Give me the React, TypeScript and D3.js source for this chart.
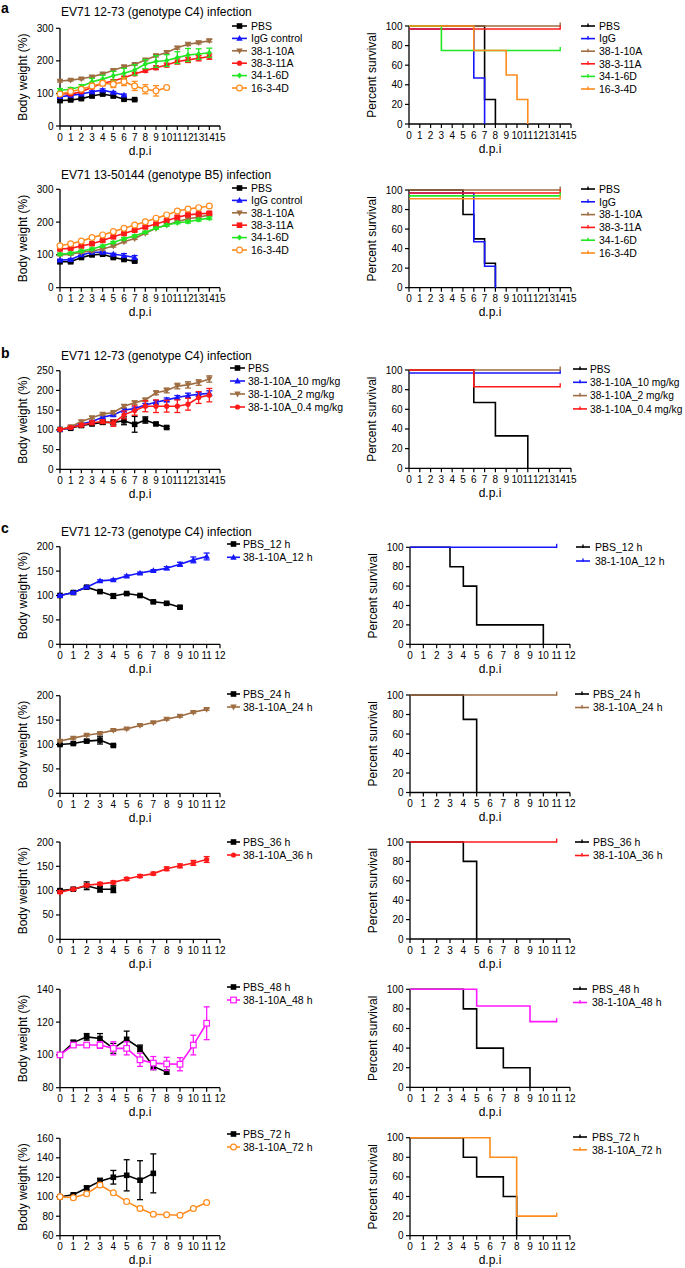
import React from 'react';
import * as d3 from 'd3';

const FONT = "'Liberation Sans', Arial, Helvetica, sans-serif";
const COL = {
  black: '#000000',
  blue: '#1616ff',
  brown: '#9e6d42',
  red: '#ff1a1a',
  green: '#22e622',
  orange: '#ff8c1e',
  magenta: '#ff18ff',
};

// ---------- x values (days post infection) ----------
const D_0_4 = [0, 1, 2, 3, 4];
const D_0_6 = [0, 1, 2, 3, 4, 5, 6];
const D_0_7 = [0, 1, 2, 3, 4, 5, 6, 7];
const D_0_8 = [0, 1, 2, 3, 4, 5, 6, 7, 8];
const D_0_9 = [0, 1, 2, 3, 4, 5, 6, 7, 8, 9];
const D_0_10 = [0, 1, 2, 3, 4, 5, 6, 7, 8, 9, 10];
const D_0_11 = [0, 1, 2, 3, 4, 5, 6, 7, 8, 9, 10, 11];
const D_0_14 = [0, 1, 2, 3, 4, 5, 6, 7, 8, 9, 10, 11, 12, 13, 14];

// ---------- tick labels ----------
const TICKS_0_300 = [0, 100, 200, 300];
const TICKS_0_250 = [0, 50, 100, 150, 200, 250];
const TICKS_0_200 = [0, 50, 100, 150, 200];
const TICKS_80_140 = [80, 100, 120, 140];
const TICKS_60_160 = [60, 80, 100, 120, 140, 160];
const TICKS_SURV = [0, 20, 40, 60, 80, 100];

// ---------- Panel a: EV71 12-73 (genotype C4), body weight ----------
const aC4_PBS = [78, 80, 84, 92, 98, 92, 82, 81];
const aC4_PBS_err = [4, 3, 3, 4, 4, 3, 3, 2];
const aC4_IgG = [90, 94, 98, 105, 110, 103, 95];
const aC4_IgG_err = [3, 3, 3, 3, 4, 3, 3];
const aC4_10A = [138, 141, 145, 151, 160, 171, 182, 189, 203, 216, 226, 240, 251, 256, 262];
const aC4_10A_err = [3, 3, 3, 3, 3, 3, 3, 3, 3, 4, 4, 4, 4, 4, 4];
const aC4_11A = [100, 98, 105, 119, 131, 138, 148, 160, 170, 179, 187, 198, 203, 208, 213];
const aC4_11A_err = [3, 3, 3, 4, 4, 4, 5, 5, 5, 6, 6, 8, 8, 8, 8];
const aC4_6D = [110, 113, 121, 136, 144, 154, 162, 172, 190, 198, 201, 210, 218, 221, 225];
const aC4_6D_err = [5, 5, 6, 10, 12, 14, 15, 16, 14, 18, 18, 18, 20, 16, 14];
const aC4_4D = [98, 106, 113, 123, 131, 128, 136, 123, 113, 108, 118];
const aC4_4D_err = [4, 5, 6, 8, 8, 10, 12, 14, 14, 16, 4];

// ---------- Panel a: EV71 12-73 (C4), survival ----------
const aC4S_PBS_t = [0, 7, 8];
const aC4S_PBS_s = [100, 25, 0];
const aC4S_IgG_t = [0, 6, 7];
const aC4S_IgG_s = [97, 47, 0];
const aC4S_10A_t = [0, 14];
const aC4S_10A_s = [100, 100];
const aC4S_11A_t = [0, 14];
const aC4S_11A_s = [97, 97];
const aC4S_6D_t = [0, 3, 14];
const aC4S_6D_s = [100, 75, 75];
const aC4S_4D_t = [0, 6, 9, 10, 11];
const aC4S_4D_s = [100, 75, 50, 25, 0];

// ---------- Panel a: EV71 13-50144 (genotype B5), body weight ----------
const aB5_PBS = [79, 79, 92, 100, 102, 92, 86, 81];
const aB5_PBS_err = [3, 3, 3, 3, 3, 3, 4, 3];
const aB5_IgG = [84, 86, 100, 108, 108, 102, 98, 92];
const aB5_IgG_err = [3, 3, 3, 3, 3, 3, 6, 6];
const aB5_10A = [100, 102, 108, 112, 118, 127, 140, 150, 166, 181, 191, 201, 210, 215, 222];
const aB5_10A_err = [3, 3, 3, 3, 3, 3, 3, 3, 3, 3, 3, 3, 3, 3, 3];
const aB5_11A = [118, 120, 127, 134, 144, 155, 165, 175, 185, 194, 204, 215, 222, 225, 227];
const aB5_11A_err = [3, 3, 3, 3, 3, 3, 3, 3, 3, 3, 3, 4, 4, 4, 4];
const aB5_6D = [102, 105, 112, 118, 127, 138, 149, 158, 169, 181, 191, 198, 201, 207, 212];
const aB5_6D_err = [3, 3, 3, 3, 3, 3, 3, 3, 3, 3, 3, 3, 4, 4, 4];
const aB5_4D = [128, 134, 142, 153, 161, 171, 181, 191, 201, 212, 222, 234, 240, 244, 249];
const aB5_4D_err = [3, 3, 3, 3, 3, 3, 3, 3, 3, 3, 3, 3, 3, 3, 3];

// ---------- Panel a: EV71 13-50144 (B5), survival ----------
const aB5S_PBS_t = [0, 5, 6, 7, 8];
const aB5S_PBS_s = [100, 75, 50, 25, 0];
const aB5S_IgG_t = [0, 6, 7, 8];
const aB5S_IgG_s = [97, 47, 22, 0];
const aB5S_10A_t = [0, 14];
const aB5S_10A_s = [100, 100];
const aB5S_11A_t = [0, 14];
const aB5S_11A_s = [97, 97];
const aB5S_6D_t = [0, 14];
const aB5S_6D_s = [94, 94];
const aB5S_4D_t = [0, 14];
const aB5S_4D_s = [91, 91];

// ---------- Panel b: dose, body weight ----------
const b_PBS = [101, 104, 111, 115, 119, 119, 123, 114, 125, 115, 106];
const b_PBS_err = [2, 3, 4, 4, 5, 6, 10, 20, 8, 3, 3];
const b_10 = [101, 106, 115, 121, 132, 138, 150, 154, 163, 170, 176, 182, 187, 190, 193];
const b_10_err = [2, 2, 3, 3, 3, 3, 4, 4, 4, 4, 5, 5, 6, 5, 6];
const b_2 = [101, 108, 121, 131, 140, 144, 160, 169, 176, 194, 200, 211, 214, 220, 229];
const b_2_err = [2, 2, 3, 3, 3, 3, 4, 4, 4, 5, 6, 7, 8, 7, 8];
const b_04 = [101, 106, 112, 118, 121, 117, 138, 149, 160, 160, 160, 160, 165, 182, 188];
const b_04_err = [2, 3, 4, 5, 5, 8, 10, 12, 14, 16, 15, 16, 15, 15, 17];

// ---------- Panel b: dose, survival ----------
const bS_PBS_t = [0, 6, 8, 11];
const bS_PBS_s = [100, 67, 33, 0];
const bS_10_t = [0, 14];
const bS_10_s = [97, 97];
const bS_2_t = [0, 14];
const bS_2_s = [100, 100];
const bS_04_t = [0, 6, 14];
const bS_04_s = [100, 83, 83];

// ---------- Panel c: treatment timing, body weight ----------
const c12_PBS = [100, 106, 117, 108, 99, 104, 100, 87, 84, 76];
const c12_PBS_err = [2, 2, 2, 2, 5, 2, 2, 2, 2, 2];
const c12_10A = [100, 106, 117, 130, 132, 140, 146, 151, 156, 164, 173, 180];
const c12_10A_err = [2, 2, 2, 2, 2, 2, 2, 2, 3, 4, 6, 7];
const c24_PBS = [100, 102, 107, 109, 98];
const c24_PBS_err = [2, 2, 3, 8, 2];
const c24_10A = [107, 113, 119, 123, 129, 132, 139, 145, 152, 158, 166, 172];
const c24_10A_err = [2, 2, 2, 2, 2, 2, 2, 2, 2, 2, 2, 2];
const c36_PBS = [100, 103, 110, 103, 103];
const c36_PBS_err = [3, 2, 8, 6, 7];
const c36_10A = [97, 103, 111, 114, 117, 124, 130, 135, 145, 151, 157, 164];
const c36_10A_err = [3, 2, 3, 3, 3, 3, 3, 3, 4, 4, 5, 6];
const c48_PBS = [100, 107.5, 111, 110, 104, 109.5, 104, 93, 89.5];
const c48_PBS_err = [0, 1.5, 2, 3, 3, 5, 2, 2, 1];
const c48_10A = [100, 106, 106, 106, 104, 104, 97, 95, 94.5, 94.3, 106, 119.3];
const c48_10A_err = [0, 1, 1, 2, 4, 4, 4, 4, 4, 4, 6, 10];
const c72_PBS = [100, 102, 109, 116, 120, 122, 117, 124];
const c72_PBS_err = [0, 1, 2, 3, 7, 16, 20, 20];
const c72_10A = [100, 99, 103, 112, 104, 95, 88, 82, 81.5, 81, 88, 94];
const c72_10A_err = [0, 1, 1, 2, 1, 1, 2, 1, 1, 1, 1, 1];

// ---------- Panel c: survival ----------
const c12S_PBS_t = [0, 3, 4, 5, 10];
const c12S_PBS_s = [100, 80, 60, 20, 0];
const c12S_10A_t = [0, 11];
const c12S_10A_s = [100, 100];
const c24S_PBS_t = [0, 4, 5];
const c24S_PBS_s = [100, 75, 0];
const c24S_10A_t = [0, 11];
const c24S_10A_s = [100, 100];
const c36S_PBS_t = [0, 4, 5];
const c36S_PBS_s = [100, 80, 0];
const c36S_10A_t = [0, 11];
const c36S_10A_s = [100, 100];
const c48S_PBS_t = [0, 4, 5, 7, 9];
const c48S_PBS_s = [100, 80, 40, 20, 0];
const c48S_10A_t = [0, 5, 9, 11];
const c48S_10A_s = [100, 83, 67, 67];
const c72S_PBS_t = [0, 4, 5, 7, 8];
const c72S_PBS_s = [100, 80, 60, 40, 0];
const c72S_10A_t = [0, 6, 8, 11];
const c72S_10A_s = [100, 80, 20, 20];

// ---------- types ----------
type Shape = 'square' | 'squareOpen' | 'triangle' | 'triangleDown' | 'circle' | 'circleOpen' | 'diamond';
interface WSeries { name: string; color: string; shape: Shape; days: number[]; values: number[]; err: number[]; }
interface SSeries { name: string; color: string; times: number[]; surv: number[]; }
interface Frame { left: number; right: number; top: number; bottom: number; }
interface Legend { lx0: number; lx1: number; tx: number; y0: number; step: number; fs?: number; }
interface PanelCfg {
  kind: 'weight' | 'survival';
  frame: Frame;
  xMax: number;
  yDomain: [number, number];
  yTicks: number[];
  legend: Legend;
  weight?: WSeries[];
  surv?: SSeries[];
}

const w = (name: string, color: string, shape: Shape, days: number[], values: number[], err: number[]): WSeries =>
  ({ name, color, shape, days, values, err });
const s = (name: string, color: string, times: number[], surv: number[]): SSeries => ({ name, color, times, surv });

const LA = { left: 60, right: 220 };
const RA = { left: 409, right: 571 };
const LC = { left: 60, right: 220 };
const RC = { left: 410, right: 570 };

const panels: PanelCfg[] = [
  // a, C4
  {
    kind: 'weight', frame: { ...LA, top: 28.3, bottom: 126 }, xMax: 15, yDomain: [0, 300], yTicks: TICKS_0_300,
    legend: { lx0: 232, lx1: 247, tx: 251, y0: 26, step: 12.4 },
    weight: [
      w('PBS', COL.black, 'square', D_0_7, aC4_PBS, aC4_PBS_err),
      w('IgG control', COL.blue, 'triangle', D_0_6, aC4_IgG, aC4_IgG_err),
      w('38-1-10A', COL.brown, 'triangleDown', D_0_14, aC4_10A, aC4_10A_err),
      w('38-3-11A', COL.red, 'circle', D_0_14, aC4_11A, aC4_11A_err),
      w('34-1-6D', COL.green, 'diamond', D_0_14, aC4_6D, aC4_6D_err),
      w('16-3-4D', COL.orange, 'circleOpen', D_0_10, aC4_4D, aC4_4D_err),
    ],
  },
  {
    kind: 'survival', frame: { ...RA, top: 26, bottom: 124 }, xMax: 15, yDomain: [0, 100], yTicks: TICKS_SURV,
    legend: { lx0: 581, lx1: 595, tx: 599, y0: 26, step: 12.6 },
    surv: [
      s('PBS', COL.black, aC4S_PBS_t, aC4S_PBS_s),
      s('IgG', COL.blue, aC4S_IgG_t, aC4S_IgG_s),
      s('38-1-10A', COL.brown, aC4S_10A_t, aC4S_10A_s),
      s('38-3-11A', COL.red, aC4S_11A_t, aC4S_11A_s),
      s('34-1-6D', COL.green, aC4S_6D_t, aC4S_6D_s),
      s('16-3-4D', COL.orange, aC4S_4D_t, aC4S_4D_s),
    ],
  },
  // a, B5
  {
    kind: 'weight', frame: { ...LA, top: 189.3, bottom: 287.7 }, xMax: 15, yDomain: [0, 300], yTicks: TICKS_0_300,
    legend: { lx0: 232, lx1: 247, tx: 251, y0: 188, step: 12.4 },
    weight: [
      w('PBS', COL.black, 'square', D_0_7, aB5_PBS, aB5_PBS_err),
      w('IgG control', COL.blue, 'triangle', D_0_7, aB5_IgG, aB5_IgG_err),
      w('38-1-10A', COL.brown, 'triangleDown', D_0_14, aB5_10A, aB5_10A_err),
      w('38-3-11A', COL.red, 'square', D_0_14, aB5_11A, aB5_11A_err),
      w('34-1-6D', COL.green, 'diamond', D_0_14, aB5_6D, aB5_6D_err),
      w('16-3-4D', COL.orange, 'circleOpen', D_0_14, aB5_4D, aB5_4D_err),
    ],
  },
  {
    kind: 'survival', frame: { ...RA, top: 190, bottom: 287.7 }, xMax: 15, yDomain: [0, 100], yTicks: TICKS_SURV,
    legend: { lx0: 581, lx1: 595, tx: 599, y0: 189, step: 12.8 },
    surv: [
      s('PBS', COL.black, aB5S_PBS_t, aB5S_PBS_s),
      s('IgG', COL.blue, aB5S_IgG_t, aB5S_IgG_s),
      s('38-1-10A', COL.brown, aB5S_10A_t, aB5S_10A_s),
      s('38-3-11A', COL.red, aB5S_11A_t, aB5S_11A_s),
      s('34-1-6D', COL.green, aB5S_6D_t, aB5S_6D_s),
      s('16-3-4D', COL.orange, aB5S_4D_t, aB5S_4D_s),
    ],
  },
  // b
  {
    kind: 'weight', frame: { ...LA, top: 370.7, bottom: 469.3 }, xMax: 15, yDomain: [0, 250], yTicks: TICKS_0_250,
    legend: { lx0: 230, lx1: 245, tx: 248, y0: 368, step: 13 },
    weight: [
      w('PBS', COL.black, 'square', D_0_10, b_PBS, b_PBS_err),
      w('38-1-10A_10 mg/kg', COL.blue, 'triangle', D_0_14, b_10, b_10_err),
      w('38-1-10A_2 mg/kg', COL.brown, 'triangleDown', D_0_14, b_2, b_2_err),
      w('38-1-10A_0.4 mg/kg', COL.red, 'circle', D_0_14, b_04, b_04_err),
    ],
  },
  {
    kind: 'survival', frame: { ...RA, top: 370, bottom: 468.3 }, xMax: 15, yDomain: [0, 100], yTicks: TICKS_SURV,
    legend: { lx0: 573, lx1: 587, tx: 590, y0: 369, step: 13.3, fs: 10.2 },
    surv: [
      s('PBS', COL.black, bS_PBS_t, bS_PBS_s),
      s('38-1-10A_10 mg/kg', COL.blue, bS_10_t, bS_10_s),
      s('38-1-10A_2 mg/kg', COL.brown, bS_2_t, bS_2_s),
      s('38-1-10A_0.4 mg/kg', COL.red, bS_04_t, bS_04_s),
    ],
  },
  // c 12 h
  {
    kind: 'weight', frame: { ...LC, top: 546.7, bottom: 644.3 }, xMax: 12, yDomain: [0, 200], yTicks: TICKS_0_200,
    legend: { lx0: 227, lx1: 240, tx: 243, y0: 544, step: 13.3 },
    weight: [
      w('PBS_12 h', COL.black, 'square', D_0_9, c12_PBS, c12_PBS_err),
      w('38-1-10A_12 h', COL.blue, 'triangle', D_0_11, c12_10A, c12_10A_err),
    ],
  },
  {
    kind: 'survival', frame: { ...RC, top: 547.3, bottom: 644.3 }, xMax: 12, yDomain: [0, 100], yTicks: TICKS_SURV,
    legend: { lx0: 576, lx1: 590, tx: 595, y0: 547, step: 14 },
    surv: [
      s('PBS_12 h', COL.black, c12S_PBS_t, c12S_PBS_s),
      s('38-1-10A_12 h', COL.blue, c12S_10A_t, c12S_10A_s),
    ],
  },
  // c 24 h
  {
    kind: 'weight', frame: { ...LC, top: 695.7, bottom: 793.3 }, xMax: 12, yDomain: [0, 200], yTicks: TICKS_0_200,
    legend: { lx0: 227, lx1: 240, tx: 243, y0: 694, step: 13 },
    weight: [
      w('PBS_24 h', COL.black, 'square', D_0_4, c24_PBS, c24_PBS_err),
      w('38-1-10A_24 h', COL.brown, 'triangleDown', D_0_11, c24_10A, c24_10A_err),
    ],
  },
  {
    kind: 'survival', frame: { ...RC, top: 695, bottom: 792.5 }, xMax: 12, yDomain: [0, 100], yTicks: TICKS_SURV,
    legend: { lx0: 575, lx1: 589, tx: 593, y0: 694, step: 13.5 },
    surv: [
      s('PBS_24 h', COL.black, c24S_PBS_t, c24S_PBS_s),
      s('38-1-10A_24 h', COL.brown, c24S_10A_t, c24S_10A_s),
    ],
  },
  // c 36 h
  {
    kind: 'weight', frame: { ...LC, top: 842, bottom: 939.3 }, xMax: 12, yDomain: [0, 200], yTicks: TICKS_0_200,
    legend: { lx0: 227, lx1: 240, tx: 243, y0: 842, step: 13 },
    weight: [
      w('PBS_36 h', COL.black, 'square', D_0_4, c36_PBS, c36_PBS_err),
      w('38-1-10A_36 h', COL.red, 'circle', D_0_11, c36_10A, c36_10A_err),
    ],
  },
  {
    kind: 'survival', frame: { ...RC, top: 842, bottom: 939 }, xMax: 12, yDomain: [0, 100], yTicks: TICKS_SURV,
    legend: { lx0: 575, lx1: 589, tx: 593, y0: 842, step: 13.5 },
    surv: [
      s('PBS_36 h', COL.black, c36S_PBS_t, c36S_PBS_s),
      s('38-1-10A_36 h', COL.red, c36S_10A_t, c36S_10A_s),
    ],
  },
  // c 48 h
  {
    kind: 'weight', frame: { ...LC, top: 989.3, bottom: 1087.7 }, xMax: 12, yDomain: [80, 140], yTicks: TICKS_80_140,
    legend: { lx0: 227, lx1: 240, tx: 243, y0: 987, step: 13 },
    weight: [
      w('PBS_48 h', COL.black, 'square', D_0_8, c48_PBS, c48_PBS_err),
      w('38-1-10A_48 h', COL.magenta, 'squareOpen', D_0_11, c48_10A, c48_10A_err),
    ],
  },
  {
    kind: 'survival', frame: { ...RC, top: 989.3, bottom: 1087.3 }, xMax: 12, yDomain: [0, 100], yTicks: TICKS_SURV,
    legend: { lx0: 573, lx1: 587, tx: 592, y0: 989, step: 13.5 },
    surv: [
      s('PBS_48 h', COL.black, c48S_PBS_t, c48S_PBS_s),
      s('38-1-10A_48 h', COL.magenta, c48S_10A_t, c48S_10A_s),
    ],
  },
  // c 72 h
  {
    kind: 'weight', frame: { ...LC, top: 1138.3, bottom: 1235.7 }, xMax: 12, yDomain: [60, 160], yTicks: TICKS_60_160,
    legend: { lx0: 227, lx1: 240, tx: 243, y0: 1134, step: 13 },
    weight: [
      w('PBS_72 h', COL.black, 'square', D_0_7, c72_PBS, c72_PBS_err),
      w('38-1-10A_72 h', COL.orange, 'circleOpen', D_0_11, c72_10A, c72_10A_err),
    ],
  },
  {
    kind: 'survival', frame: { ...RC, top: 1137.7, bottom: 1235.7 }, xMax: 12, yDomain: [0, 100], yTicks: TICKS_SURV,
    legend: { lx0: 573, lx1: 587, tx: 592, y0: 1137, step: 12.8 },
    surv: [
      s('PBS_72 h', COL.black, c72S_PBS_t, c72S_PBS_s),
      s('38-1-10A_72 h', COL.orange, c72S_10A_t, c72S_10A_s),
    ],
  },
];

const titles = [
  { text: 'EV71 12-73 (genotype C4) infection', x: 61, y: 15.5 },
  { text: 'EV71 13-50144 (genotype B5) infection', x: 61, y: 179 },
  { text: 'EV71 12-73 (genotype C4) infection', x: 61, y: 360 },
  { text: 'EV71 12-73 (genotype C4) infection', x: 61, y: 536 },
];
const letters = [
  { text: 'a', x: 0, y: 13 },
  { text: 'b', x: 0, y: 358 },
  { text: 'c', x: 0, y: 533 },
];

function Marker({ shape, cx, cy, color }: { shape: Shape; cx: number; cy: number; color: string }) {
  switch (shape) {
    case 'square':
      return <rect x={cx - 2.8} y={cy - 2.8} width={5.6} height={5.6} fill={color} />;
    case 'squareOpen':
      return <rect x={cx - 2.8} y={cy - 2.8} width={5.6} height={5.6} fill="#fff" stroke={color} strokeWidth={1.2} />;
    case 'triangle':
      return <path d={`M${cx},${cy - 3.4}L${cx + 3.2},${cy + 2.4}L${cx - 3.2},${cy + 2.4}Z`} fill={color} />;
    case 'triangleDown':
      return <path d={`M${cx},${cy + 3.4}L${cx + 3.2},${cy - 2.4}L${cx - 3.2},${cy - 2.4}Z`} fill={color} />;
    case 'circle':
      return <circle cx={cx} cy={cy} r={2.6} fill={color} />;
    case 'circleOpen':
      return <circle cx={cx} cy={cy} r={2.9} fill="#fff" stroke={color} strokeWidth={1.2} />;
    case 'diamond':
      return <path d={`M${cx},${cy - 3}L${cx + 2.6},${cy}L${cx},${cy + 3}L${cx - 2.6},${cy}Z`} fill={color} />;
  }
  return null;
}

function Panel({ cfg }: { cfg: PanelCfg }) {
  const f = cfg.frame;
  const x = d3.scaleLinear().domain([0, cfg.xMax]).range([f.left, f.right]);
  const y = d3.scaleLinear().domain(cfg.yDomain).range([f.bottom, f.top]);
  const xTicks = d3.range(0, cfg.xMax + 1);
  const yTitle = cfg.kind === 'weight' ? 'Body weight (%)' : 'Percent survival';
  const lineGen = d3.line<[number, number]>().x(d => x(d[0])).y(d => y(d[1]));
  const stepGen = d3.line<[number, number]>().x(d => x(d[0])).y(d => y(d[1])).curve(d3.curveStepAfter);
  const midX = (f.left + f.right) / 2;
  const midY = (f.top + f.bottom) / 2;
  const lg = cfg.legend;
  const names = cfg.kind === 'weight' ? (cfg.weight || []).map(d => [d.name, d.color]) : (cfg.surv || []).map(d => [d.name, d.color]);

  return (
    <g>
      {/* axes */}
      <line x1={f.left} x2={f.left} y1={f.top} y2={f.bottom} stroke="#000" strokeWidth={1.3} />
      <line x1={f.left} x2={x(cfg.xMax)} y1={f.bottom} y2={f.bottom} stroke="#000" strokeWidth={1.3} />
      {cfg.yTicks.map(t => (
        <g key={'y' + t}>
          <line x1={f.left - 4} x2={f.left} y1={y(t)} y2={y(t)} stroke="#000" strokeWidth={1.2} />
          <text x={f.left - 6.5} y={y(t) + 3.5} fontSize={10} textAnchor="end">{t}</text>
        </g>
      ))}
      {xTicks.map(t => (
        <g key={'x' + t}>
          <line x1={x(t)} x2={x(t)} y1={f.bottom} y2={f.bottom + 4} stroke="#000" strokeWidth={1.2} />
          <text x={x(t)} y={f.bottom + 14.5} fontSize={10} textAnchor="middle">{t}</text>
        </g>
      ))}
      <text x={midX} y={f.bottom + 28.5} fontSize={12} textAnchor="middle">d.p.i</text>
      <text transform={`translate(${f.left - 33},${midY}) rotate(-90)`} fontSize={12} textAnchor="middle">{yTitle}</text>

      {/* weight series */}
      {cfg.kind === 'weight' && (cfg.weight || []).map((sr, si) => {
        const pts = sr.days.map((d, i) => [d, sr.values[i]] as [number, number]);
        return (
          <g key={'w' + si}>
            <path d={lineGen(pts) || ''} fill="none" stroke={sr.color} strokeWidth={1.6} />
            {pts.map((p, i) => {
              const e = sr.err[i] || 0;
              if (e <= 0) return null;
              const px = x(p[0]);
              const y1 = y(p[1] - e), y2 = y(p[1] + e);
              return (
                <g key={'e' + i} stroke={sr.color} strokeWidth={1.3}>
                  <line x1={px} x2={px} y1={y1} y2={y2} />
                  <line x1={px - 3} x2={px + 3} y1={y1} y2={y1} />
                  <line x1={px - 3} x2={px + 3} y1={y2} y2={y2} />
                </g>
              );
            })}
            {pts.map((p, i) => (
              <Marker key={'m' + i} shape={sr.shape} cx={x(p[0])} cy={y(p[1])} color={sr.color} />
            ))}
          </g>
        );
      })}

      {/* survival series */}
      {cfg.kind === 'survival' && (cfg.surv || []).map((sr, si) => {
        const pts = sr.times.map((t, i) => [t, sr.surv[i]] as [number, number]);
        const last = pts[pts.length - 1];
        return (
          <g key={'s' + si}>
            <path d={stepGen(pts) || ''} fill="none" stroke={sr.color} strokeWidth={1.6} />
            {last[1] > 0 && (
              <line x1={x(last[0])} x2={x(last[0])} y1={y(last[1]) - 3.5} y2={y(last[1]) + 0.8} stroke={sr.color} strokeWidth={1.4} />
            )}
          </g>
        );
      })}

      {/* legend */}
      {names.map(([name, color], i) => {
        const ly = lg.y0 + i * lg.step;
        const mx = (lg.lx0 + lg.lx1) / 2;
        const sr = cfg.weight ? cfg.weight[i] : null;
        return (
          <g key={'l' + i}>
            <line x1={lg.lx0} x2={lg.lx1} y1={ly} y2={ly} stroke={color} strokeWidth={1.6} />
            {sr ? (
              <Marker shape={sr.shape} cx={mx} cy={ly} color={color} />
            ) : (
              <line x1={mx} x2={mx} y1={ly - 2.5} y2={ly + 1} stroke={color} strokeWidth={1.4} />
            )}
            <text x={lg.tx} y={ly + 3.7} fontSize={lg.fs || 10.5}>{name}</text>
          </g>
        );
      })}
    </g>
  );
}

export default function App() {
  return (
    <div style={{ position: 'absolute', left: 0, top: 0, width: 685, height: 1268, background: '#fff' }}>
      <svg width={685} height={1268} style={{ display: 'block' }} fontFamily={FONT}>
        <rect x={0} y={0} width={685} height={1268} fill="#fff" />
        {panels.map((p, i) => <Panel key={i} cfg={p} />)}
        {titles.map((t, i) => (
          <text key={'t' + i} x={t.x} y={t.y} fontSize={12}>{t.text}</text>
        ))}
        {letters.map((l, i) => (
          <text key={'L' + i} x={l.x + 1} y={l.y} fontSize={14} fontWeight="bold">{l.text}</text>
        ))}
      </svg>
    </div>
  );
}
